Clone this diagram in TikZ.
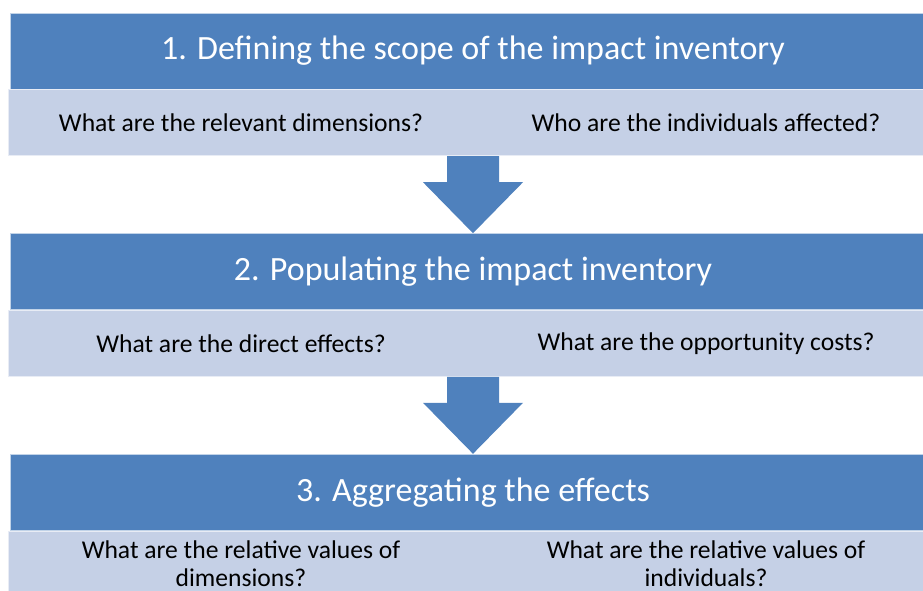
\documentclass[tikz,border=0pt]{standalone}
\usepackage{fontspec}
\setmainfont{Carlito}
\usetikzlibrary{positioning,calc}
\definecolor{headblue}{HTML}{4F81BD}
\definecolor{bandblue}{HTML}{C5D0E6}

\begin{document}
\begin{tikzpicture}[x=1pt,y=-1pt,
	head/.style={fill=headblue,draw=white!65!headblue,line width=0.8pt,minimum width=926pt,minimum height=76pt,inner sep=0pt,text=white,font=\fontsize{34}{40}\selectfont},
	band/.style={fill=bandblue,draw=white!60!bandblue,line width=0.8pt,minimum width=930pt,minimum height=66pt,inner sep=0pt},
	ask/.style={font=\fontsize{25.6}{28}\selectfont,align=center,text=black,inner sep=0pt},
	flow/.style={fill=headblue}]
				\useasboundingbox (0,0) rectangle (923,590);
				\clip (0,0) rectangle (923,590);

				\node[head] (head1) at (473,51) {1. Defining the scope of the impact inventory};
				\node[band,below=0pt of head1] (band1) {};
				\node[head,below=77pt of band1] (head2) {2. Populating the impact inventory};
				\node[band,below=0pt of head2] (band2) {};
				\node[head,below=77pt of band2] (head3) {3. Aggregating the effects};
				\node[band,below=0pt of head3] (band3) {};

				\node[ask] (q1a) at ([xshift=-232pt]band1.center) {What are the relevant dimensions?};
				\node[ask] (q1b) at ([xshift=233pt]band1.center) {Who are the individuals affected?};
				\node[ask] (q2a) at ([xshift=-232pt]band2.center) {What are the direct effects?};
				\node[ask] (q2b) at ([xshift=233pt]band2.center) {What are the opportunity costs?};
				\node[ask] (q3a) at ([xshift=-232pt]band3.center) {What are the relative values of\\dimensions?};
				\node[ask] (q3b) at ([xshift=233pt]band3.center) {What are the relative values of\\individuals?};

				% block arrows between the steps
				\foreach \a/\b in {band1/head2,band2/head3} {
					\fill[flow] ($(\a.south)+(-26,0)$) -- ($(\a.south)+(26,0)$) -- ($(\a.south)+(26,26)$) -- ($(\a.south)+(50,26)$) -- (\b.north) -- ($(\a.south)+(-50,26)$) -- ($(\a.south)+(-26,26)$) -- cycle;
				}
			\end{tikzpicture}
\end{document}
